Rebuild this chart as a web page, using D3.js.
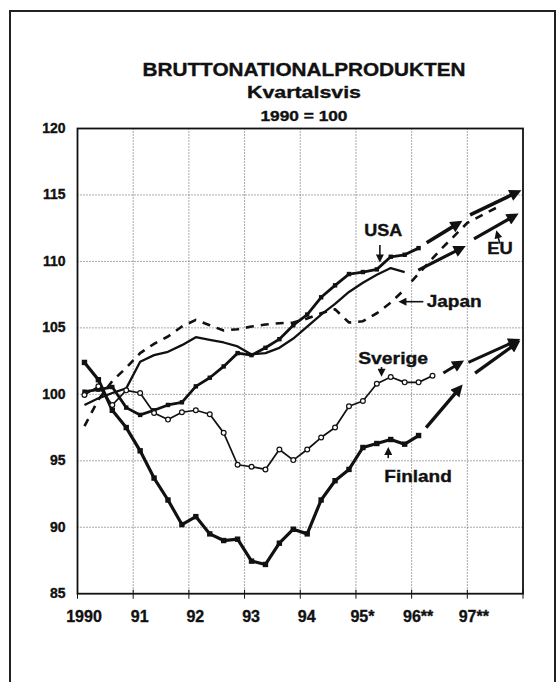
<!DOCTYPE html>
<html>
<head>
<meta charset="utf-8">
<script src="https://cdn.jsdelivr.net/npm/d3@7/dist/d3.min.js"></script>
<style>
body { margin: 0; background: #fff; }
text { font-family: "Liberation Sans", Arial, Helvetica, sans-serif; font-weight: bold; fill: #111; stroke: #111; stroke-width: 0.35; }
</style>
</head>
<body>
<div id="graph"></div>
<script>
// quarterly values, first value = 1990 Q1
var finland = [102.4, 101.1, 98.8, 97.5, 95.75, 93.7, 92.05, 90.2, 90.8, 89.5, 89.0, 89.1,
               87.45, 87.2, 88.8, 89.85, 89.5, 92.05, 93.5, 94.35, 96.0, 96.3, 96.6, 96.25, 96.9]
var sverige = [99.95, 100.6, 99.2, 100.3, 100.1, 98.6, 98.1, 98.65, 98.8, 98.5, 97.1, 94.7,
               94.55, 94.35, 95.85, 95.05, 95.85, 96.75, 97.5, 99.1, 99.5, 100.8, 101.3, 100.9, 100.9, 101.4]
var usa = [100.2, 100.35, 100.55, 99.0, 98.45, 98.8, 99.2, 99.4, 100.6, 101.25, 102.1, 103.1,
           102.95, 103.5, 104.15, 105.2, 106.0, 107.3, 108.2, 109.05, 109.2, 109.4, 110.35, 110.5, 111.0]
var eu = [99.2, 99.7, 100.1, 100.45, 102.45, 102.95, 103.2, 103.7, 104.3, 104.1, 103.9, 103.6,
          103.0, 103.1, 103.5, 104.2, 105.1, 106.0, 106.8, 107.7, 108.4, 109.0, 109.5, 109.2]
var japan = [97.6, 99.6, 101.0, 102.0, 103.1, 103.8, 104.35, 105.1, 105.6, 105.2, 104.8, 104.9,
             105.1, 105.25, 105.35, 105.4, 105.7, 106.1, 106.4, 105.4, 105.5, 106.1, 106.9, 107.9]

// forecasts (year, value) -> (year, value)
var usaForecast = [[1996.27, 111.4, 1996.93, 113.1], [1997.05, 113.5, 1997.99, 115.4]]
var euForecast = [[1996.12, 109.35, 1996.99, 111.2], [1997.12, 111.7, 1997.94, 113.65]]
var sverigeForecast = [[1996.57, 101.6, 1996.96, 102.6], [1997.02, 102.4, 1997.97, 104.2]]
var finlandForecast = [[1996.26, 97.5, 1996.93, 100.8], [1997.14, 101.6, 1997.97, 104.1]]
var japanForecast = [[1996.0, 108.5], [1996.5, 110.8], [1997.0, 112.9], [1997.55, 114.1]]

var tickYears = [1990, 1991, 1992, 1993, 1994, 1995, 1996, 1997]
var tickLabels = ["1990", "91", "92", "93", "94", "95*", "96**", "97**"]
var yTicks = [85, 90, 95, 100, 105, 110, 115, 120]

var w = 558, h = 682

var svg = d3.select("#graph")
    .append("svg")
        .attr("width", w)
        .attr("height", h)

svg.append("rect")
    .attr("width", w).attr("height", h)
    .attr("fill", "#fff")

// outer frame (bottom edge runs off the page)
svg.append("path")
    .attr("d", "M10," + (h + 5) + "V11H555V" + (h + 5))
    .attr("fill", "none")
    .attr("stroke", "#222")
    .attr("stroke-width", 2)

var x = d3.scaleLinear().domain([1990, 1998]).range([77.5, 523])
var y = d3.scaleLinear().domain([85, 120]).range([593.7, 128.5])

function qx(i) { return x(1990 + (i + 0.5) / 4) }

// titles
var titles = [
    {t: "BRUTTONATIONALPRODUKTEN", y: 76, fs: 18, len: 323},
    {t: "Kvartalsvis", y: 97.5, fs: 17, len: 114},
    {t: "1990 = 100", y: 120.5, fs: 14, len: 87}
]
svg.selectAll("text.title")
    .data(titles)
    .enter()
    .append("text")
        .attr("class", "title")
        .attr("x", 304)
        .attr("y", function(d) { return d.y })
        .attr("font-size", function(d) { return d.fs })
        .attr("text-anchor", "middle")
        .attr("textLength", function(d) { return d.len })
        .attr("lengthAdjust", "spacingAndGlyphs")
        .text(function(d) { return d.t })

// grid
var grid = svg.append("g").attr("class", "grid")
grid.selectAll("line.v")
    .data(tickYears.slice(1))
    .enter()
    .append("line")
        .attr("x1", function(d) { return x(d) })
        .attr("x2", function(d) { return x(d) })
        .attr("y1", y(120)).attr("y2", y(85))
        .attr("stroke", "#555")
        .attr("stroke-width", 1)
        .attr("stroke-dasharray", "1,2")
grid.selectAll("line.h")
    .data(yTicks.slice(1, -1))
    .enter()
    .append("line")
        .attr("y1", function(d) { return y(d) })
        .attr("y2", function(d) { return y(d) })
        .attr("x1", x(1990)).attr("x2", x(1998))
        .attr("stroke", "#555")
        .attr("stroke-width", 1)
        .attr("stroke-dasharray", "1,2")

// plot border
svg.append("rect")
    .attr("x", x(1990)).attr("y", y(120))
    .attr("width", x(1998) - x(1990))
    .attr("height", y(85) - y(120))
    .attr("fill", "none")
    .attr("stroke", "#111")
    .attr("stroke-width", 1.8)

// x ticks + labels
svg.selectAll("line.xt")
    .data(tickYears.concat([1998]))
    .enter()
    .append("line")
        .attr("x1", function(d) { return x(d) })
        .attr("x2", function(d) { return x(d) })
        .attr("y1", y(85) - 4).attr("y2", y(85) + 5)
        .attr("stroke", "#111")
        .attr("stroke-width", 1)

svg.selectAll("text.xl")
    .data(tickYears)
    .enter()
    .append("text")
        .attr("class", "xl")
        .attr("x", function(d) { return x(d) + 6.5 })
        .attr("y", 622.3)
        .attr("font-size", 16)
        .attr("text-anchor", "middle")
        .text(function(d, i) { return tickLabels[i] })

svg.selectAll("text.yl")
    .data(yTicks)
    .enter()
    .append("text")
        .attr("class", "yl")
        .attr("x", x(1990) - 12)
        .attr("y", function(d) { return y(d) + 4.5 })
        .attr("font-size", 14)
        .attr("text-anchor", "end")
        .text(function(d) { return d })

// lines
var line = d3.line()
    .x(function(d, i) { return qx(i) })
    .y(function(d) { return y(d) })

var series = [
    {v: japan, sw: 2.6, dash: "8,7"},
    {v: eu, sw: 2.3, dash: null},
    {v: sverige, sw: 1.7, dash: null},
    {v: usa, sw: 2.8, dash: null},
    {v: finland, sw: 3.2, dash: null}
]
svg.selectAll("path.series")
    .data(series)
    .enter()
    .append("path")
        .attr("class", "series")
        .attr("d", function(d) { return line(d.v) })
        .attr("fill", "none")
        .attr("stroke", "#111")
        .attr("stroke-width", function(d) { return d.sw })
        .attr("stroke-dasharray", function(d) { return d.dash })
        .attr("stroke-linejoin", "round")

svg.append("path")
    .attr("d", d3.line()
        .x(function(d) { return x(d[0]) })
        .y(function(d) { return y(d[1]) })(japanForecast))
    .attr("fill", "none")
    .attr("stroke", "#111")
    .attr("stroke-width", 2.6)
    .attr("stroke-dasharray", "8,7")

// markers
svg.selectAll("rect.fin")
    .data(finland)
    .enter()
    .append("rect")
        .attr("x", function(d, i) { return qx(i) - 2.7 })
        .attr("y", function(d) { return y(d) - 2.7 })
        .attr("width", 5.4).attr("height", 5.4)
        .attr("fill", "#111")
svg.selectAll("rect.usa")
    .data(usa)
    .enter()
    .append("rect")
        .attr("x", function(d, i) { return qx(i) - 2.2 })
        .attr("y", function(d) { return y(d) - 2.2 })
        .attr("width", 4.4).attr("height", 4.4)
        .attr("fill", "#111")
svg.selectAll("circle.sve")
    .data(sverige)
    .enter()
    .append("circle")
        .attr("cx", function(d, i) { return qx(i) })
        .attr("cy", function(d) { return y(d) })
        .attr("r", 2.4)
        .attr("fill", "#fff")
        .attr("stroke", "#111")
        .attr("stroke-width", 1.2)

// arrowheads
var defs = svg.append("defs")
defs.append("marker")
    .attr("id", "head")
    .attr("viewBox", "0 0 10 10")
    .attr("refX", 4.3).attr("refY", 5)
    .attr("markerUnits", "userSpaceOnUse")
    .attr("markerWidth", 14).attr("markerHeight", 12)
    .attr("orient", "auto")
    .append("path").attr("d", "M0,0L10,5L0,10Z").attr("fill", "#111")
defs.append("marker")
    .attr("id", "small")
    .attr("viewBox", "0 0 10 10")
    .attr("refX", 4).attr("refY", 5)
    .attr("markerUnits", "userSpaceOnUse")
    .attr("markerWidth", 9).attr("markerHeight", 8)
    .attr("orient", "auto")
    .append("path").attr("d", "M0,0L10,5L0,10Z").attr("fill", "#111")

function arrow(g, x0, y0, x1, y1, sw, head, back) {
    var dx = x1 - x0, dy = y1 - y0, l = Math.sqrt(dx * dx + dy * dy)
    g.append("line")
        .attr("x1", x0).attr("y1", y0)
        .attr("x2", x1 - dx / l * back).attr("y2", y1 - dy / l * back)
        .attr("stroke", "#111")
        .attr("stroke-width", sw)
        .attr("marker-end", "url(#" + head + ")")
}

var fc = svg.append("g").attr("class", "forecast")
var forecasts = [[usaForecast, 3.6], [euForecast, 3.2], [sverigeForecast, 3], [finlandForecast, 3.4]]
forecasts.forEach(function(f) {
    f[0].forEach(function(s) {
        arrow(fc, x(s[0]), y(s[1]), x(s[2]), y(s[3]), f[1], "head", 8)
    })
})

// series labels with pointers (year, value positions)
var labels = [
    {t: "USA", yr: 1995.15, v: 111.9, len: 38, ax: [1995.43, 111.23, 1995.43, 109.9]},
    {t: "Japan", yr: 1996.27, v: 106.55, len: 55, ax: [1996.21, 106.97, 1995.76, 106.97]},
    {t: "EU", yr: 1997.357, v: 110.56, len: 25.5, ax: [1997.585, 111.35, 1997.52, 112.35]},
    {t: "Sverige", yr: 1995.04, v: 102.26, len: 70, ax: [1995.46, 102.05, 1995.46, 101.3]},
    {t: "Finland", yr: 1995.51, v: 93.42, len: 67.5, ax: [1995.58, 95.2, 1995.58, 96.05]}
]
var lab = svg.append("g").attr("class", "labels")
lab.selectAll("text")
    .data(labels)
    .enter()
    .append("text")
        .attr("x", function(d) { return x(d.yr) })
        .attr("y", function(d) { return y(d.v) })
        .attr("font-size", 16.5)
        .attr("textLength", function(d) { return d.len })
        .attr("lengthAdjust", "spacingAndGlyphs")
        .text(function(d) { return d.t })
labels.forEach(function(d) {
    arrow(lab, x(d.ax[0]), y(d.ax[1]), x(d.ax[2]), y(d.ax[3]), 1.6, "small", 5)
})
</script>
</body>
</html>
